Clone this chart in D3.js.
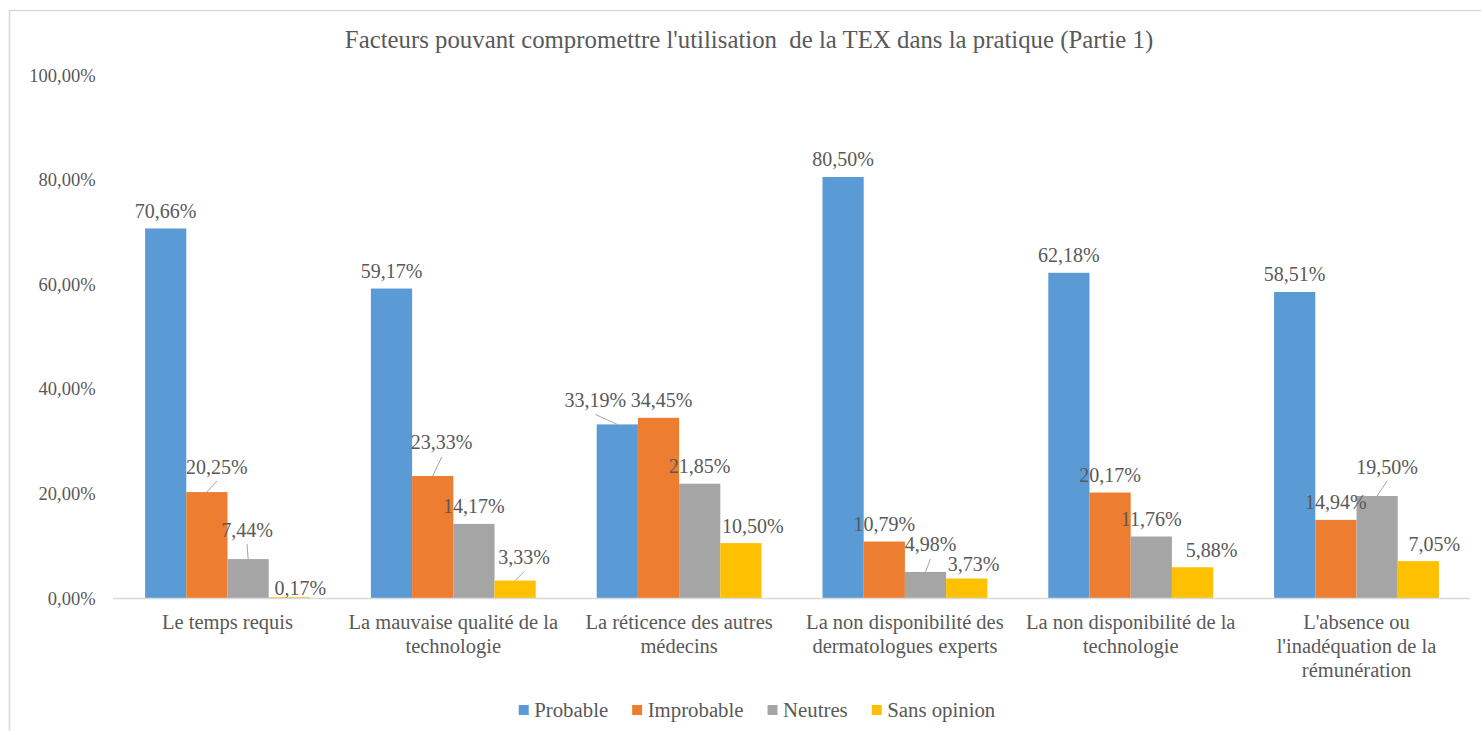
<!DOCTYPE html>
<html>
<head>
<meta charset="utf-8">
<script src="https://cdn.jsdelivr.net/npm/d3@7"></script>
<style>
  body { margin: 0; background: #fff; }
</style>
</head>
<body>
<div id="viz"></div>
<script>
const titleText = "Facteurs pouvant compromettre l'utilisation  de la TEX dans la pratique (Partie 1)";
const categories = [
    'Le temps requis',
    'La mauvaise qualité de la\ntechnologie',
    'La réticence des autres\nmédecins',
    'La non disponibilité des\ndermatologues experts',
    'La non disponibilité de la\ntechnologie',
    "L'absence ou\nl'inadéquation de la\nrémunération"
];
const seriesNames = ['Probable', 'Improbable', 'Neutres', 'Sans opinion'];
const probable = [70.66, 59.17, 33.19, 80.50, 62.18, 58.51];
const improbable = [20.25, 23.33, 34.45, 10.79, 20.17, 14.94];
const neutres = [7.44, 14.17, 21.85, 4.98, 11.76, 19.50];
const sansOpinion = [0.17, 3.33, 10.50, 3.73, 5.88, 7.05];
const yTicks = [0, 20, 40, 60, 80, 100];

const colours = ['#5b9bd5', '#ed7d31', '#a5a5a5', '#ffc000'];
const fontFam = 'Liberation Serif';
const textColour = '#595959';

// hand-moved data labels, like in the original sheet: [dx, dy, leader line]
const labelNudge = {
    '0-1': [10, -8, true], '0-2': [-1, -12, true], '0-3': [11, 8, false],
    '1-1': [9, -16, true], '1-3': [9, -6, true],
    '2-0': [-22, -7, true], '2-1': [3, 0, false], '2-3': [12, 0, false],
    '3-2': [5, -10, true], '3-3': [7, 3, false],
    '4-3': [19, 0, false],
    '5-2': [10, -12, true], '5-3': [16, 0, false]
};

const W = 1481, H = 731;
const margin = { top: 75, right: 11.6, bottom: 133, left: 114.6 };
const width = W - margin.left - margin.right;
const height = H - margin.top - margin.bottom;

const values = [probable, improbable, neutres, sansOpinion];
const rows = categories.map((c, i) => ({
    cat: c,
    vals: seriesNames.map((s, j) => ({ s: s, j: j, i: i, v: values[j][i] }))
}));

const fmt = (v) => d3.format('.2f')(v).replace('.', ',') + '%';

const svg = d3.select('#viz').append('svg')
    .attr('width', W)
    .attr('height', H);

// chart frame (cut off on right and bottom in the source)
svg.append('rect')
    .attr('x', 9.5).attr('y', 10.5)
    .attr('width', W + 20).attr('height', H + 20)
    .attr('fill', 'none')
    .attr('stroke', '#d9d9d9')
    .attr('stroke-width', 1.5);

svg.append('text')
    .attr('x', 749)
    .attr('y', 48)
    .attr('text-anchor', 'middle')
    .style('font-family', fontFam)
    .style('font-size', '24.8px')
    .style('fill', textColour)
    .style('white-space', 'pre')
    .text(titleText);

const g = svg.append('g')
    .attr('transform', 'translate(' + margin.left + ',' + margin.top + ')');

const x0 = d3.scaleBand()
    .domain(categories)
    .range([0, width])
    .padding(0);

const x1 = d3.scaleBand()
    .domain(seriesNames)
    .range([0, x0.bandwidth()])
    .paddingInner(0)
    .paddingOuter(0.74);

const y = d3.scaleLinear()
    .domain([0, 100])
    .range([height, 0]);

// y tick labels only
const yAxis = d3.axisLeft(y)
    .tickValues(yTicks)
    .tickSize(0)
    .tickPadding(0)
    .tickFormat(fmt);

const yGuide = g.append('g')
    .attr('transform', 'translate(-19,0)')
    .call(yAxis);
yGuide.select('.domain').remove();
yGuide.selectAll('text')
    .attr('dy', '0.33em')
    .style('font-family', fontFam)
    .style('font-size', '18.5px')
    .style('fill', textColour);

// bars
const groups = g.selectAll('.grp').data(rows)
    .enter().append('g')
    .attr('class', 'grp')
    .attr('transform', (d) => 'translate(' + x0(d.cat) + ',0)');

groups.selectAll('rect').data((d) => d.vals)
    .enter().append('rect')
    .attr('x', (d) => x1(d.s))
    .attr('width', x1.bandwidth())
    .attr('y', (d) => y(d.v))
    .attr('height', (d) => height - y(d.v))
    .attr('fill', (d) => colours[d.j]);

// x axis line
g.append('line')
    .attr('x1', -1.5).attr('x2', width + 0.6)
    .attr('y1', height + 0.5).attr('y2', height + 0.5)
    .attr('stroke', '#d9d9d9')
    .attr('stroke-width', 1.5);

// data labels
groups.each(function(row) {
    const grp = d3.select(this);
    row.vals.forEach((d) => {
        const nudge = labelNudge[d.i + '-' + d.j] || [0, 0, false];
        const bx = x1(d.s) + x1.bandwidth() / 2;
        const top = y(d.v);
        const cx = bx + nudge[0];
        const cy = top - 17 + nudge[1];
        if (nudge[2]) {
            grp.append('line')
                .attr('x1', cx).attr('y1', cy + 14)
                .attr('x2', bx).attr('y2', top)
                .attr('stroke', '#a6a6a6')
                .attr('stroke-width', 1);
        }
        grp.append('text')
            .attr('x', cx)
            .attr('y', cy + 6.5)
            .attr('text-anchor', 'middle')
            .style('font-family', fontFam)
            .style('font-size', '20px')
            .style('fill', textColour)
            .text(fmt(d.v));
    });
});

// category labels
groups.append('text')
    .attr('x', x0.bandwidth() / 2)
    .attr('y', height + 30.5)
    .attr('text-anchor', 'middle')
    .style('font-family', fontFam)
    .style('font-size', '20.5px')
    .style('fill', textColour)
    .selectAll('tspan').data((d) => d.cat.split('\n'))
    .enter().append('tspan')
    .attr('x', x0.bandwidth() / 2)
    .attr('dy', (d, k) => k === 0 ? 0 : 24)
    .text((d) => d);

// legend
const legend = svg.append('g');
const items = legend.selectAll('g').data(seriesNames)
    .enter().append('g');
items.append('rect')
    .attr('width', 10).attr('height', 10)
    .attr('y', 705)
    .attr('fill', (d, j) => colours[j]);
items.append('text')
    .attr('x', 15.5)
    .attr('y', 716.5)
    .style('font-family', fontFam)
    .style('font-size', '20.8px')
    .style('fill', textColour)
    .text((d) => d);
let off = 0;
items.each(function() {
    const w = d3.select(this).select('text').node().getComputedTextLength();
    d3.select(this).attr('transform', 'translate(' + off + ',0)');
    off += 15.5 + w + 24;
});
const legendWidth = off - 24;
legend.attr('transform', 'translate(' + (757 - legendWidth / 2) + ',0)');
</script>
</body>
</html>
